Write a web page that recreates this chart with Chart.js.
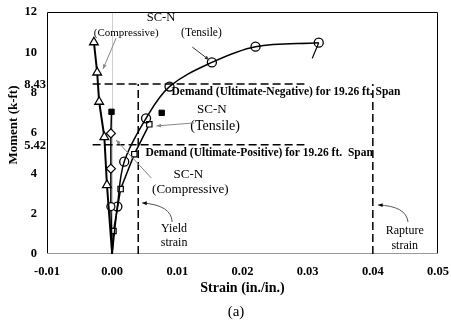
<!DOCTYPE html>
<html>
<head>
<meta charset="utf-8">
<script src="https://cdn.jsdelivr.net/npm/chart.js@4"></script>
<style>
  html, body { margin: 0; padding: 0; background: #fff; }
  #wrap { width: 451px; height: 332px; position: relative; }
</style>
</head>
<body>
<div id="wrap"><canvas id="momentChart"></canvas></div>
<script>
// ---------- data (strain in./in., moment k-ft) ----------
const xTicks = [-0.01, 0, 0.01, 0.02, 0.03, 0.04, 0.05];
const yTicks = [0, 2, 4, 6, 8, 10, 12];
const yExtraTicks = [5.42, 8.43];

// SC-N compressive gauge (triangles)
const triStrain = [0, -0.0008, -0.0012, -0.0020, -0.0023, -0.0028];
const triMoment = [0, 3.42, 5.8, 7.55, 9.0, 10.5];
// compressive gauge near zero (diamonds)
const diaStrain = [0, -0.0002, -0.0002, -0.0002, -0.0001];
const diaMoment = [0, 2.35, 4.23, 5.98, 7.05];
// tensile gauge (circles)
const cirStrain = [0, 0.0008, 0.00185, 0.0052, 0.0088, 0.0153, 0.022, 0.0317];
const cirMoment = [0, 2.35, 4.58, 6.73, 8.3, 9.5, 10.28, 10.48];
const tailStrain = [0.0317, 0.0307];
const tailMoment = [10.48, 9.7];
// SC-N tensile gauge (squares)
const sqStrain = [0, 0.0002, 0.0013, 0.0034, 0.0057];
const sqMoment = [0, 1.14, 3.22, 4.95, 6.43];
// last readings (filled squares)
const endStrain = [-0.0001, 0.0076];
const endMoment = [7.05, 7.0];

// demand / strain limits
const demandNeg = 8.43;
const demandPos = 5.42;
const demandFrom = -0.003, demandTo = 0.0295;
const yieldStrain = 0.004;
const ruptureStrain = 0.04;

const pts = (xs, ys) => xs.map((x, i) => ({ x: x, y: ys[i] }));
const serif = '"Liberation Serif", "Times New Roman", serif';

const dashed = (data) => ({
  data: data, showLine: true, borderColor: '#000', borderWidth: 1.5,
  borderDash: [8, 4], pointRadius: 0, tension: 0
});

// ---------- frame, annotations (text + arrows) ----------
const notes = {
  id: 'notes',
  beforeDatasetsDraw(chart) {
    const { ctx, chartArea: a } = chart;
    ctx.save();
    ctx.strokeStyle = '#000';
    ctx.lineWidth = 1;
    ctx.setLineDash([]);
    ctx.beginPath();
    ctx.moveTo(a.left + 0.5, a.bottom);
    ctx.lineTo(a.left + 0.5, a.top + 0.5);
    ctx.lineTo(a.right - 0.5, a.top + 0.5);
    ctx.lineTo(a.right - 0.5, a.bottom);
    ctx.stroke();
    ctx.strokeStyle = '#9a9a9a';
    ctx.beginPath();
    ctx.moveTo(a.left, a.bottom - 0.5);
    ctx.lineTo(a.right, a.bottom - 0.5);
    ctx.stroke();
    ctx.restore();
  },
  afterDatasetsDraw(chart) {
    const { ctx, scales: { x, y }, chartArea: a } = chart;
    const X = v => x.getPixelForValue(v), Y = v => y.getPixelForValue(v);
    ctx.save();

    const text = (s, vx, vy, opt) => {
      opt = opt || {};
      ctx.font = (opt.bold ? 'bold ' : '') + (opt.size || 13) + 'px ' + serif;
      ctx.fillStyle = '#000';
      ctx.textAlign = opt.align || 'center';
      ctx.textBaseline = 'middle';
      ctx.fillText(s, X(vx), Y(vy));
    };
    const head = (x1, y1, x2, y2, color) => {
      const ang = Math.atan2(y2 - y1, x2 - x1), L = 5;
      ctx.fillStyle = color;
      ctx.beginPath();
      ctx.moveTo(x2, y2);
      ctx.lineTo(x2 - L * Math.cos(ang - 0.4), y2 - L * Math.sin(ang - 0.4));
      ctx.lineTo(x2 - L * Math.cos(ang + 0.4), y2 - L * Math.sin(ang + 0.4));
      ctx.closePath();
      ctx.fill();
    };
    const arrow = (x1, y1, x2, y2, color) => {
      ctx.strokeStyle = color; ctx.lineWidth = 1;
      ctx.beginPath();
      ctx.moveTo(X(x1), Y(y1)); ctx.lineTo(X(x2), Y(y2));
      ctx.stroke();
      head(X(x1), Y(y1), X(x2), Y(y2), color);
    };
    const curved = (x1, y1, cx, cy, x2, y2) => {
      ctx.strokeStyle = '#555'; ctx.lineWidth = 1;
      ctx.beginPath();
      ctx.moveTo(X(x1), Y(y1));
      ctx.quadraticCurveTo(X(cx), Y(cy), X(x2), Y(y2));
      ctx.stroke();
      head(X(cx), Y(cy), X(x2), Y(y2), '#000');
    };

    // labels
    text('SC-N', 0.0075, 11.7, { size: 12.5 });
    text('(Compressive)', 0.00215, 10.96, { size: 11 });
    text('(Tensile)', 0.0137, 10.96, { size: 11.5 });
    text('SC-N', 0.0153, 7.14);
    text('(Tensile)', 0.0158, 6.35, { size: 14 });
    text('SC-N', 0.0117, 3.92);
    text('(Compressive)', 0.012, 3.17);
    text('Demand (Ultimate-Negative) for 19.26 ft. Span', 0.0091, 8.03, { bold: true, size: 11.5, align: 'left' });
    text('Demand (Ultimate-Positive) for 19.26 ft.  Span', 0.0051, 5.0, { bold: true, size: 11.5, align: 'left' });
    text('Yield', 0.0095, 1.24, { size: 12 });
    text('strain', 0.0095, 0.55, { size: 12 });
    text('Rapture', 0.0449, 1.14, { size: 12 });
    text('strain', 0.0449, 0.4, { size: 12 });

    // arrows
    arrow(0.0006, 10.7, -0.0014, 9.17, '#888');
    arrow(0.0123, 10.26, 0.0149, 9.62, '#333');
    arrow(0.0126, 6.5, 0.0068, 6.35, '#888');
    arrow(0.006, 3.77, 0.0006, 5.65, '#888');
    curved(0.0092, 1.59, 0.0091, 2.43, 0.0046, 2.53);
    curved(0.0454, 1.59, 0.0451, 2.38, 0.0408, 2.43);

    // extra demand tick labels sit against the axis
    ctx.fillStyle = '#000';
    ctx.font = 'bold 12.5px ' + serif;
    ctx.textAlign = 'right';
    ctx.textBaseline = 'middle';
    yExtraTicks.forEach(v => ctx.fillText(v.toFixed(2), a.left - 1, Y(v) + 1));

    // axis titles and caption
    ctx.textAlign = 'center';
    ctx.font = 'bold 14px ' + serif;
    ctx.fillText('Strain (in./in.)', (a.left + a.right) / 2, 288);
    ctx.save();
    ctx.translate(14, 125);
    ctx.rotate(-Math.PI / 2);
    ctx.font = 'bold 13px ' + serif;
    ctx.fillText('Moment (k-ft)', 0, 0);
    ctx.restore();
    ctx.font = '15px ' + serif;
    ctx.fillText('(a)', 236, 312);
    ctx.restore();
  }
};

new Chart(document.getElementById('momentChart'), {
  type: 'scatter',
  data: {
    datasets: [
      dashed([{ x: demandFrom, y: demandNeg }, { x: demandTo, y: demandNeg }]),
      dashed([{ x: demandFrom, y: demandPos }, { x: demandTo, y: demandPos }]),
      dashed([{ x: yieldStrain, y: 0 }, { x: yieldStrain, y: demandNeg }]),
      dashed([{ x: ruptureStrain, y: 0 }, { x: ruptureStrain, y: demandNeg }]),
      {
        data: pts(triStrain, triMoment), showLine: true,
        borderColor: '#000', borderWidth: 2, pointStyle: 'triangle',
        pointRadius: triStrain.map((v, i) => i ? 5 : 0),
        pointBackgroundColor: '#fff', pointBorderColor: '#000', pointBorderWidth: 1.3
      },
      {
        data: pts(diaStrain, diaMoment), showLine: true,
        borderColor: '#000', borderWidth: 1.5,
        pointStyle: ['circle', 'circle', 'rectRot', 'rectRot', 'rect'],
        pointRadius: [0, 4, 4.5, 4.5, 0],
        pointBackgroundColor: '#fff', pointBorderColor: '#000', pointBorderWidth: 1.2
      },
      {
        data: pts(cirStrain, cirMoment), showLine: true, tension: 0.35,
        borderColor: '#000', borderWidth: 1.5, pointStyle: 'circle',
        pointRadius: cirStrain.map((v, i) => i ? 4.5 : 0),
        pointBackgroundColor: 'rgba(255,255,255,0)', pointBorderColor: '#000', pointBorderWidth: 1.3
      },
      {
        data: pts(tailStrain, tailMoment), showLine: true,
        borderColor: '#000', borderWidth: 1.2, pointRadius: 0
      },
      {
        data: pts(sqStrain, sqMoment), showLine: true,
        borderColor: '#000', borderWidth: 1.5, pointStyle: 'rect',
        pointRadius: sqStrain.map((v, i) => i ? 3.8 : 0),
        pointBackgroundColor: '#fff', pointBorderColor: '#000', pointBorderWidth: 1.2
      },
      {
        data: pts(endStrain, endMoment), showLine: false,
        pointStyle: 'rect', pointRadius: 3.8,
        pointBackgroundColor: '#000', pointBorderColor: '#000'
      }
    ]
  },
  options: {
    responsive: true, maintainAspectRatio: false, animation: false,
    layout: { padding: { left: 0, top: 12, right: 13, bottom: 0 } },
    plugins: { legend: { display: false }, tooltip: { enabled: false } },
    scales: {
      x: {
        type: 'linear', min: -0.01, max: 0.05,
        border: { display: false },
        afterBuildTicks: s => { s.ticks = xTicks.map(v => ({ value: v })); },
        afterFit: s => { s.height = 78; s.paddingLeft = 0; s.paddingRight = 0; },
        grid: {
          drawTicks: false,
          color: c => (c.tick && c.tick.value === 0 ? '#cfcfcf' : 'rgba(0,0,0,0)')
        },
        ticks: {
          padding: 10, color: '#000', maxRotation: 0,
          font: { family: serif, size: 12.5, weight: 'bold' },
          callback: v => v.toFixed(2)
        }
      },
      y: {
        type: 'linear', min: 0, max: 12,
        border: { display: false },
        afterBuildTicks: s => { s.ticks = yTicks.map(v => ({ value: v })); },
        afterFit: s => { s.width = 47; s.paddingTop = 0; s.paddingBottom = 0; },
        grid: { display: false, drawTicks: false },
        ticks: {
          padding: 10, color: '#000', autoSkip: false,
          font: { family: serif, size: 12.5, weight: 'bold' },
          callback: v => String(v)
        }
      }
    }
  },
  plugins: [notes]
});
</script>
</body>
</html>
